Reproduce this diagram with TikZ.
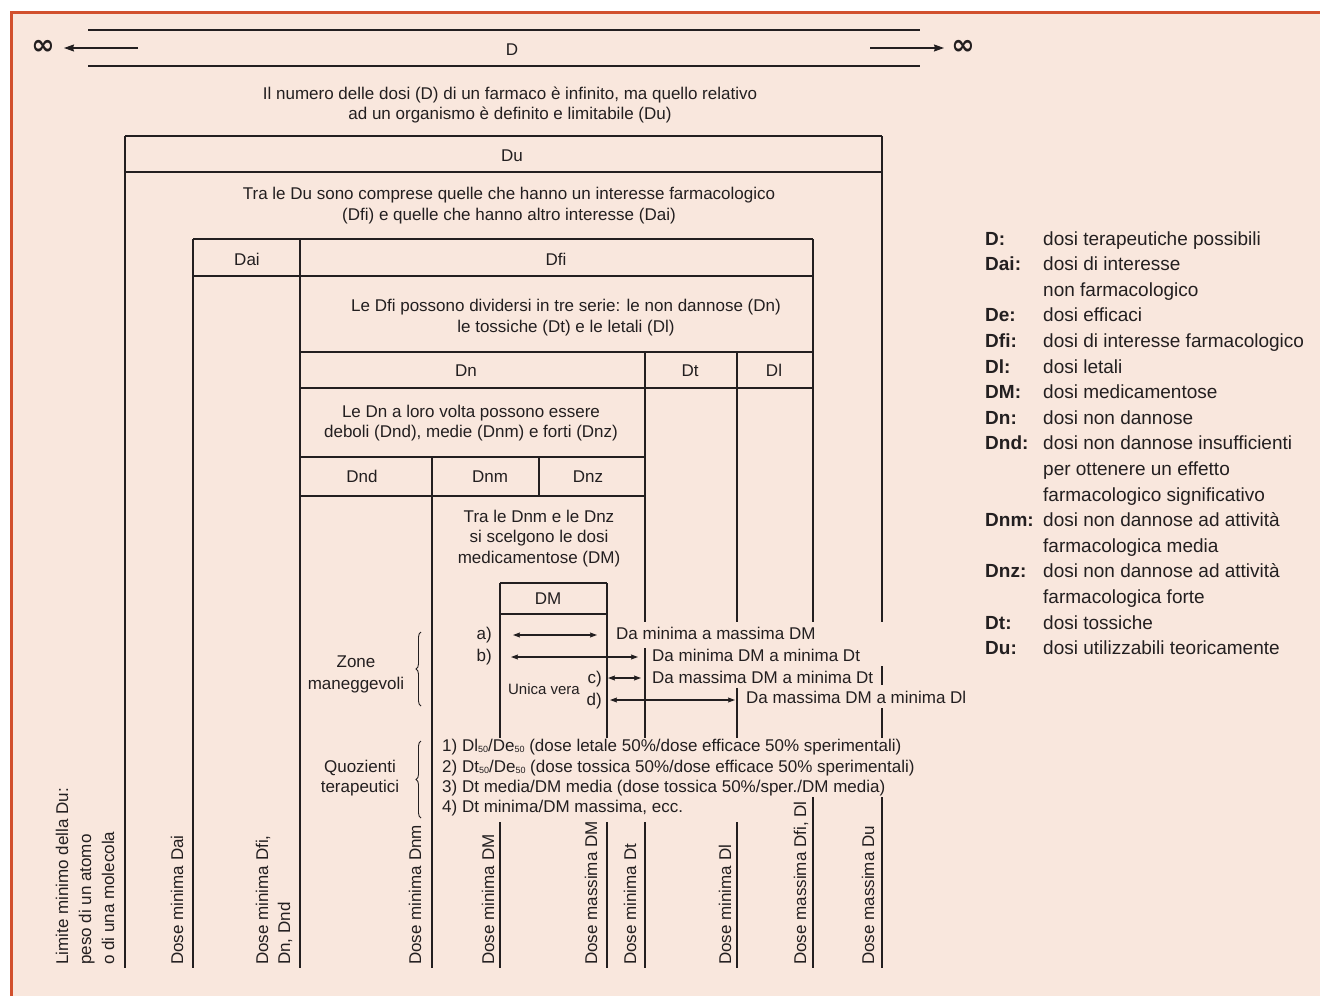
\documentclass[tikz,border=0pt]{standalone}
\usepackage{fontspec}
\setmainfont{Liberation Sans}
\newfontfamily\symfont{DejaVu Sans}
\usetikzlibrary{arrows.meta,decorations.pathreplacing}
\definecolor{bgpink}{HTML}{F9E7DD}
\definecolor{framered}{HTML}{D2502D}
\definecolor{ink}{HTML}{231F20}
\newcommand{\sub}[1]{\raisebox{-1.5pt}{\fontsize{9}{9}\selectfont #1}}
\begin{document}
\begin{tikzpicture}[x=1pt,y=-1pt,
  every node/.style={inner sep=0pt,text=ink,font=\fontsize{17}{20.5}\selectfont},
  rule/.style={draw=ink,line width=1.5pt},
  lbl/.style={anchor=base},
  lblw/.style={anchor=base west},
  lble/.style={anchor=base east},
  infsym/.style={anchor=center,font=\fontsize{28}{28}\selectfont\symfont\bfseries},
  vert/.style={anchor=base west,rotate=90},
  legk/.style={anchor=base west,font=\fontsize{19}{22}\selectfont\bfseries},
  legv/.style={anchor=base west,font=\fontsize{19}{22}\selectfont},
  onearrow/.style={draw=ink,line width=1.2pt,-{Stealth[length=10pt,width=7pt,inset=1pt]}},
  twoarrow/.style={draw=ink,line width=1.1pt,{Stealth[length=7pt,width=5pt,inset=1pt]}-{Stealth[length=7pt,width=5pt,inset=1pt]}},
  curly/.style={draw=ink,line width=0.9pt,decorate,decoration={brace,amplitude=5pt}}
]
\useasboundingbox (0,0) rectangle (1320,996);
\fill[white] (0,0) rectangle (1320,996);
\fill[bgpink] (10,11) rectangle (1320,996);
\draw[framered,line width=3pt] (11.5,996) -- (11.5,12.5) -- (1320,12.5);

% ---- top D band
\draw[rule] (88,30) -- (920,30);
\draw[rule] (88,66) -- (920,66);
\node[infsym] (infL) at (43,47) {∞};
\node[infsym] (infR) at (963,47) {∞};
\coordinate (aL1) at (138,48); \coordinate (aL2) at (64,48);
\coordinate (aR1) at (870,48); \coordinate (aR2) at (944,48);
\draw[onearrow] (aL1) -- (aL2);
\draw[onearrow] (aR1) -- (aR2);
\node[lbl] (D) at (512,55) {D};
\node[lbl] (t1a) at (510,99) {Il numero delle dosi (D) di un farmaco è infinito, ma quello relativo};
\node[lbl] (t1b) at (510,119) {ad un organismo è definito e limitabile (Du)};

% ---- horizontal rules of the table
\draw[rule] (125,136) -- (882,136);
\draw[rule] (125,172) -- (882,172);
\draw[rule] (193,239) -- (813,239);
\draw[rule] (193,276) -- (813,276);
\draw[rule] (300,352) -- (813,352);
\draw[rule] (300,388) -- (813,388);
\draw[rule] (300,457) -- (645,457);
\draw[rule] (300,496) -- (645,496);
\draw[rule] (500,583) -- (607,583);
\draw[rule] (500,614) -- (607,614);

% ---- vertical rules
\draw[rule] (125,136) -- (125,968);
\draw[rule] (193,239) -- (193,968);
\draw[rule] (300,239) -- (300,968);
\draw[rule] (432,457) -- (432,968);
\draw[rule] (539,457) -- (539,496);
\draw[rule] (500,583) -- (500,738) (500,822) -- (500,968);
\draw[rule] (607,583) -- (607,738) (607,822) -- (607,968);
\draw[rule] (645,352) -- (645,622) (645,648) -- (645,738) (645,822) -- (645,968);
\draw[rule] (737,352) -- (737,622) (737,688) -- (737,738) (737,822) -- (737,968);
\draw[rule] (813,239) -- (813,622) (813,797) -- (813,968);
\draw[rule] (882,136) -- (882,622) (882,666) -- (882,685) (882,708) -- (882,738) (882,797) -- (882,968);

% ---- table labels
\node[lbl] (Du) at (512,161) {Du};
\node[lbl] (t2a) at (509,199) {Tra le Du sono comprese quelle che hanno un interesse farmacologico};
\node[lbl] (t2b) at (509,220) {(Dfi) e quelle che hanno altro interesse (Dai)};
\node[lbl] (Dai) at (247,265) {Dai};
\node[lbl] (Dfi) at (556,265) {Dfi};
\node[lbl] (t3a) at (566,311) {Le Dfi possono dividersi in tre serie: le non dannose (Dn)};
\node[lbl] (t3b) at (566,332) {le tossiche (Dt) e le letali (Dl)};
\node[lbl] (Dn) at (466,376) {Dn};
\node[lbl] (Dt) at (690,376) {Dt};
\node[lbl] (Dl) at (774,376) {Dl};
\node[lbl] (t4a) at (471,417) {Le Dn a loro volta possono essere};
\node[lbl] (t4b) at (471,437) {deboli (Dnd), medie (Dnm) e forti (Dnz)};
\node[lbl] (Dnd) at (362,482) {Dnd};
\node[lbl] (Dnm) at (490,482) {Dnm};
\node[lbl] (Dnz) at (588,482) {Dnz};
\node[lbl] (t5a) at (539,522) {Tra le Dnm e le Dnz};
\node[lbl] (t5b) at (539,542) {si scelgono le dosi};
\node[lbl] (t5c) at (539,563) {medicamentose (DM)};
\node[lbl] (DM) at (548,604) {DM};

% ---- zone maneggevoli
\node[lbl] (z1) at (356,667) {Zone};
\node[lbl] (z2) at (356,689) {maneggevoli};
\coordinate (bz1) at (421,706); \coordinate (bz2) at (421,632);
\draw[curly] (bz1) -- (bz2);
\node[lble] (ra) at (492,639) {a)};
\node[lble] (rb) at (492,661) {b)};
\node[lble] (rc) at (602,683) {c)};
\node[lble] (rd) at (602,705) {d)};
\node[lbl] (uv) at (544,694) {\fontsize{15}{18}\selectfont Unica vera};
\coordinate (a1) at (513,635); \coordinate (a2) at (597,635);
\coordinate (b1) at (511,657); \coordinate (b2) at (638,657);
\coordinate (c1) at (608,678); \coordinate (c2) at (641,678);
\coordinate (d1) at (610,700); \coordinate (d2) at (735,700);
\draw[twoarrow] (a1) -- (a2);
\draw[twoarrow] (b1) -- (b2);
\draw[twoarrow] (c1) -- (c2);
\draw[twoarrow] (d1) -- (d2);
\node[lblw] (ta) at (616,639) {Da minima a massima DM};
\node[lblw] (tb) at (652,661) {Da minima DM a minima Dt};
\node[lblw] (tc) at (652,683) {Da massima DM a minima Dt};
\node[lblw] (td) at (746,703) {Da massima DM a minima Dl};

% ---- quozienti terapeutici
\node[lbl] (q1) at (360,772) {Quozienti};
\node[lbl] (q2) at (360,792) {terapeutici};
\coordinate (bq1) at (421,818); \coordinate (bq2) at (421,741);
\draw[curly] (bq1) -- (bq2);
\node[lblw] (qa) at (442,751) {1) Dl\sub{50}/De\sub{50} (dose letale 50\%/dose efficace 50\% sperimentali)};
\node[lblw] (qb) at (442,772) {2) Dt\sub{50}/De\sub{50} (dose tossica 50\%/dose efficace 50\% sperimentali)};
\node[lblw] (qc) at (442,792) {3) Dt media/DM media (dose tossica 50\%/sper./DM media)};
\node[lblw] (qd) at (442,812) {4) Dt minima/DM massima, ecc.};

% ---- bottom rotated labels
\node[vert] (v1) at (68,965) {Limite minimo della Du:};
\node[vert] (v2) at (91,965) {peso di un atomo};
\node[vert] (v3) at (114,965) {o di una molecola};
\node[vert] (v4) at (183,965) {Dose minima Dai};
\node[vert] (v5) at (268,965) {Dose minima Dfi,};
\node[vert] (v6) at (290,965) {Dn, Dnd};
\node[vert] (v7) at (421,965) {Dose minima Dnm};
\node[vert] (v8) at (494,965) {Dose minima DM};
\node[vert] (v9) at (597,965) {Dose massima DM};
\node[vert] (v10) at (636,965) {Dose minima Dt};
\node[vert] (v11) at (731,965) {Dose minima Dl};
\node[vert] (v12) at (806,965) {Dose massima Dfi, Dl};
\node[vert] (v13) at (874,965) {Dose massima Du};

% ---- legend
\foreach \k/\v [count=\i from 0] in {D:/dosi terapeutiche possibili,
  Dai:/dosi di interesse, /non farmacologico,
  De:/dosi efficaci,
  Dfi:/dosi di interesse farmacologico,
  Dl:/dosi letali,
  DM:/dosi medicamentose,
  Dn:/dosi non dannose,
  Dnd:/dosi non dannose insufficienti, /per ottenere un effetto, /farmacologico significativo,
  Dnm:/dosi non dannose ad attività, /farmacologica media,
  Dnz:/dosi non dannose ad attività, /farmacologica forte,
  Dt:/dosi tossiche,
  Du:/dosi utilizzabili teoricamente}{
  \node[legk] (lk\i) at (985,{245+25.6*\i}) {\k};
  \node[legv] (lv\i) at (1043,{245+25.6*\i}) {\v};
}
\end{tikzpicture}
\end{document}
